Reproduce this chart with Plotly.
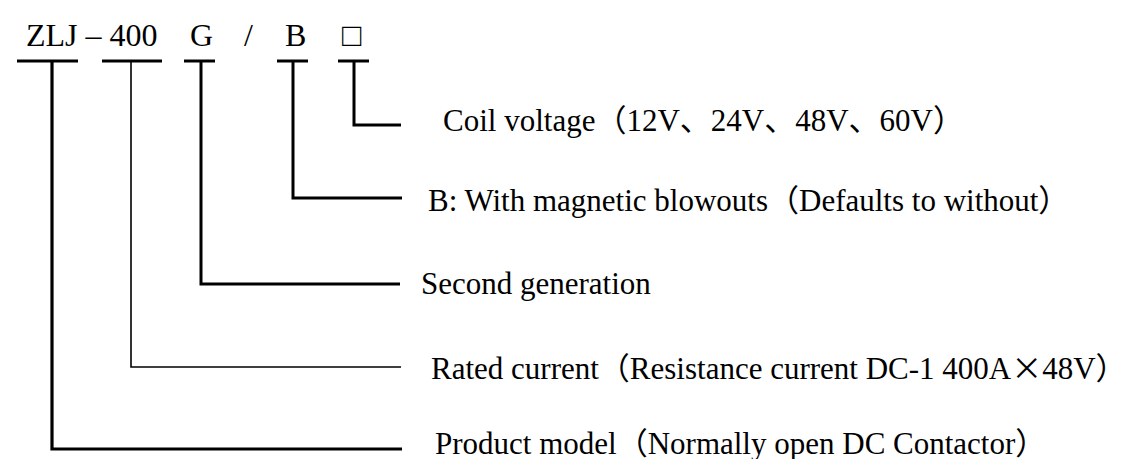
import plotly.graph_objects as go

# ---- content ----
codes = ["ZLJ", "400", "G", "B", "□"]
descriptions = [
    "Product model（Normally open DC Contactor）",
    "Rated current（Resistance current DC-1 400A×48V）",
    "Second generation",
    "B: With magnetic blowouts（Defaults to without）",
    "Coil voltage（12V、24V、48V、60V）",
]
title_parts = ["ZLJ – 400", "G", "/", "B", "□"]

# ---- geometry (pixel space) ----
W, H = 1127, 459
bar_y = 53
bar_left = [9, 94, 176, 269, 330]
bar_right = [70, 154, 207, 300, 361]
vert_x = [44, 123, 193, 285, 346]
level_y = [441, 359, 276, 190, 117]
line_end = [394, 393, 392, 394, 393]
text_x = [427, 423, 413, 420, 435]
text_dy = [-6, -2, -1, 2, -5]
widths = [3.2, 1.6, 3, 3, 3]

FONT = "Liberation Serif, Times New Roman, Noto Sans CJK JP, serif"


def fmt(s):
    return s.replace("×", '<span style="font-family:Noto Sans CJK JP">×</span>')


fig = go.Figure()
for i in range(len(codes)):
    fig.add_trace(go.Scatter(
        x=[bar_left[i], bar_right[i]], y=[bar_y, bar_y], mode="lines",
        line=dict(color="black", width=3), hoverinfo="skip", showlegend=False))
    fig.add_trace(go.Scatter(
        x=[vert_x[i], vert_x[i], line_end[i]], y=[bar_y, level_y[i], level_y[i]],
        mode="lines", line=dict(color="black", width=widths[i]),
        hoverinfo="skip", showlegend=False))
    fig.add_annotation(x=text_x[i] - 2, y=level_y[i] + text_dy[i], text=fmt(descriptions[i]),
                       xanchor="left", yanchor="middle", showarrow=False,
                       font=dict(family=FONT, size=31, color="black"))

title_x = [16, 193, 240, 287, 344]
title_anchor = ["left", "center", "center", "center", "center"]
for i, t in enumerate(title_parts):
    fig.add_annotation(x=title_x[i], y=27, text=t, xanchor=title_anchor[i], yanchor="middle",
                       showarrow=False, font=dict(family=FONT, size=32, color="black"))

fig.update_layout(
    width=W, height=H, margin=dict(l=0, r=0, t=0, b=0),
    paper_bgcolor="white", plot_bgcolor="white",
    xaxis=dict(range=[0, W], visible=False, fixedrange=True),
    yaxis=dict(range=[H, 0], visible=False, fixedrange=True),
)
fig.write_html("out.html")
